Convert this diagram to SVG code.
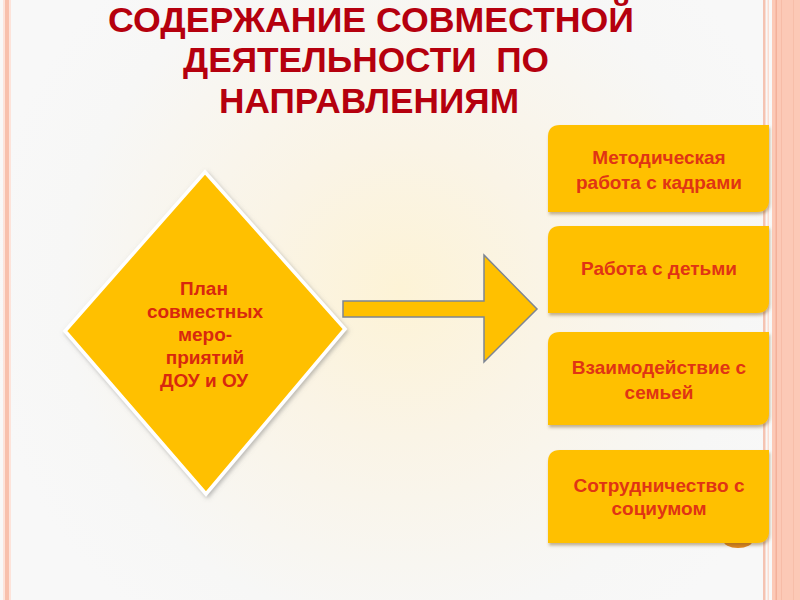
<svg xmlns="http://www.w3.org/2000/svg" width="800" height="600" viewBox="0 0 800 600">
<defs>
<radialGradient id="glow" cx="400" cy="290" r="420" gradientUnits="userSpaceOnUse">
<stop offset="0" stop-color="#fdf3d6"/>
<stop offset="0.35" stop-color="#faf4e6"/>
<stop offset="0.8" stop-color="#f7f7f6"/>
<stop offset="1" stop-color="#f8f8f8"/>
</radialGradient>
<filter id="sh" x="-10%" y="-10%" width="125%" height="130%">
<feDropShadow dx="1" dy="2.5" stdDeviation="1.6" flood-color="#7a5a20" flood-opacity="0.45"/>
</filter>
<filter id="dsh" x="-10%" y="-10%" width="125%" height="125%">
<feDropShadow dx="1.5" dy="2" stdDeviation="2" flood-color="#777" flood-opacity="0.5"/>
</filter>
<path id="box" d="M12,0 H221 V75 Q221,87 209,87 H0 V12 Q0,0 12,0 Z"/>
<path id="boxt" d="M12,0 H221 V81 Q221,93 209,93 H0 V12 Q0,0 12,0 Z"/>
</defs>
<style>
.title{font-family:"Liberation Sans",Arial,sans-serif;font-weight:bold;font-size:35px;fill:#b5000e;text-anchor:middle;white-space:pre}
.lbl{font-family:"Liberation Sans",Arial,sans-serif;font-weight:bold;font-size:19px;fill:#e03414;text-anchor:middle}
.dlbl{font-family:"Liberation Sans",Arial,sans-serif;font-weight:bold;font-size:19px;fill:#d8280e;text-anchor:middle}
.fill{fill:#ffc000}
</style>
<rect width="800" height="600" fill="url(#glow)"/>
<!-- side stripes -->
<rect x="3" y="0" width="8" height="600" fill="#fde3da"/>
<rect x="5" y="0" width="4" height="600" fill="#f8c0ac"/>
<rect x="763" y="0" width="2.5" height="600" fill="#f5c3b2"/>
<rect x="767.5" y="0" width="1.5" height="600" fill="#fbdcd0"/>
<rect x="772" y="0" width="28" height="600" fill="#fcc9b6"/>
<rect x="775.5" y="0" width="1.5" height="600" fill="#f3b09a"/>
<rect x="781" y="0" width="1" height="600" fill="#f7bca7"/>
<rect x="793" y="0" width="1" height="600" fill="#f7bea9"/>

<g id="title">
<text class="title" x="371" y="32" textLength="526" lengthAdjust="spacingAndGlyphs">СОДЕРЖАНИЕ СОВМЕСТНОЙ</text>
<text class="title" x="366" y="72" textLength="366" lengthAdjust="spacingAndGlyphs">ДЕЯТЕЛЬНОСТИ  ПО</text>
<text class="title" x="369" y="113" textLength="300" lengthAdjust="spacingAndGlyphs">НАПРАВЛЕНИЯМ</text>
</g>

<g id="plan">
<polygon points="205,172 345,329 206,494 65,331" class="fill" stroke="#ffffff" stroke-width="3.5" stroke-linejoin="miter" filter="url(#dsh)"/>
<text class="dlbl" x="204" y="295">План</text>
<text class="dlbl" x="205" y="318">совместных</text>
<text class="dlbl" x="205" y="341">меро-</text>
<text class="dlbl" x="205" y="364">приятий</text>
<text class="dlbl" x="204" y="387">ДОУ и ОУ</text>
</g>

<g id="connectors">
<polygon points="343,301 484,301 484,255 537,309 484,362 484,317 343,317" class="fill" stroke="#7d8593" stroke-width="1.5" stroke-linejoin="miter"/>
</g>

<ellipse cx="738" cy="540" rx="15" ry="8" fill="#e0861e"/>

<g id="box1">
<use href="#box" x="548" y="125" class="fill" filter="url(#sh)"/>
<text class="lbl" x="659" y="164">Методическая</text>
<text class="lbl" x="659" y="189">работа с кадрами</text>
</g>
<g id="box2">
<use href="#box" x="548" y="226" class="fill" filter="url(#sh)"/>
<text class="lbl" x="659" y="275">Работа с детьми</text>
</g>
<g id="box3">
<use href="#boxt" x="548" y="332" class="fill" filter="url(#sh)"/>
<text class="lbl" x="659" y="374">Взаимодействие с</text>
<text class="lbl" x="659" y="399">семьей</text>
</g>
<g id="box4">
<use href="#boxt" x="548" y="450" class="fill" filter="url(#sh)"/>
<text class="lbl" x="659" y="492">Сотрудничество с</text>
<text class="lbl" x="659" y="515">социумом</text>
</g>
</svg>
